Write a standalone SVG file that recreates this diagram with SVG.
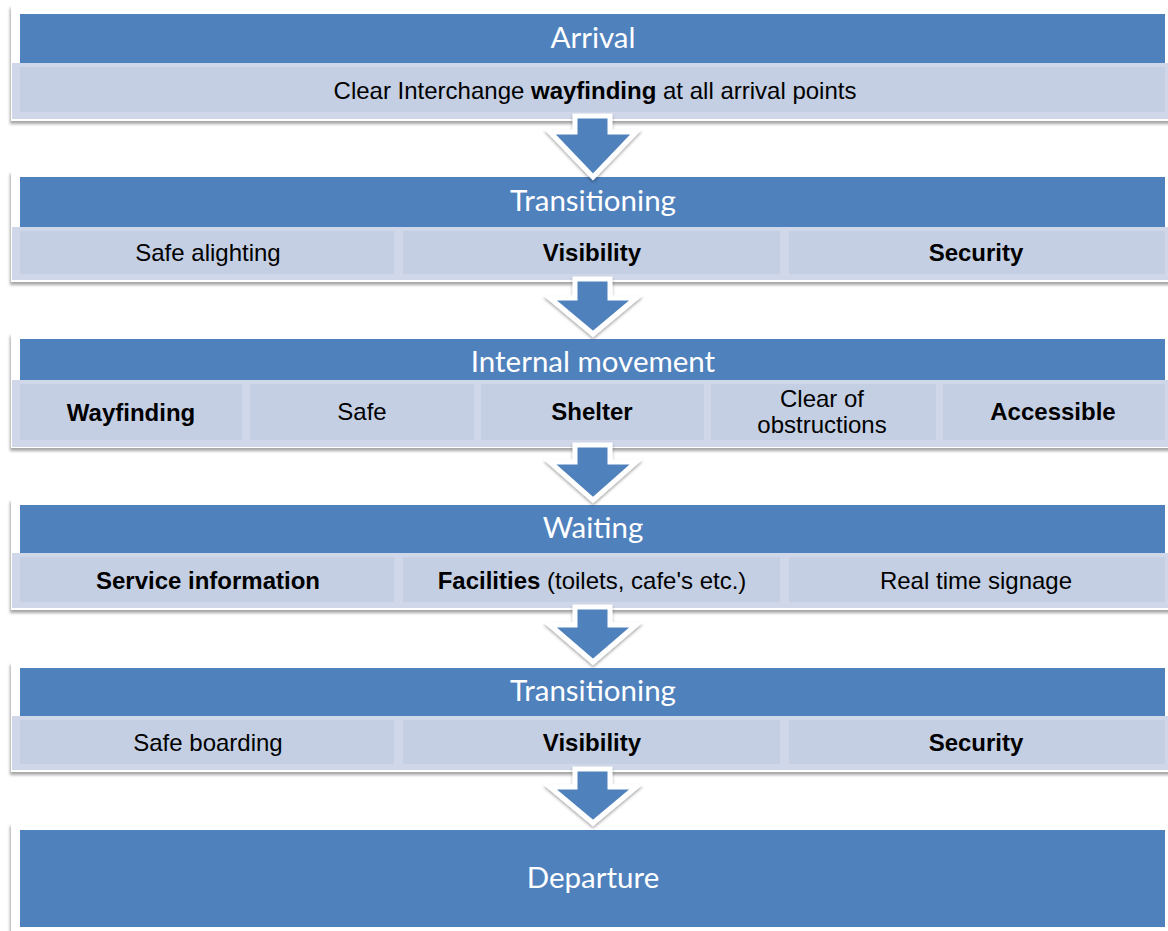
<svg xmlns="http://www.w3.org/2000/svg" width="1168" height="931" viewBox="0 0 1168 931">
<defs>
<filter id="sh" x="-5%" y="-20%" width="110%" height="140%">
<feDropShadow dx="-1" dy="3" stdDeviation="1.5" flood-color="#000" flood-opacity="0.35"/>
</filter>
<filter id="ash" x="-30%" y="-30%" width="160%" height="160%">
<feDropShadow dx="0" dy="2" stdDeviation="1.5" flood-color="#000" flood-opacity="0.35"/>
</filter>
<style>
.card{fill:#ffffff}
.hd{fill:#4f81bd}
.row{fill:#cfd7e8}
.cell{fill:#c4cfe3}
.ht{font-family:Lato,"Open Sans",sans-serif;font-size:29.5px;fill:#ffffff;text-anchor:middle}
.ct{font-family:"Liberation Sans",Arial,sans-serif;font-size:24px;fill:#000000;text-anchor:middle}
.b{font-weight:bold}
.arr{fill:#4f81bd;stroke:#ffffff;stroke-width:5;stroke-linejoin:miter}
</style>
</defs>
<rect width="1168" height="931" fill="#ffffff"/>

<g id="arrival">
<rect class="card" x="11" y="5" width="1165" height="116" filter="url(#sh)"/>
<rect class="hd" x="20" y="14" width="1145" height="49"/>
<rect class="row" x="12" y="63" width="1160" height="56"/>
<rect class="cell" x="20" y="67" width="1145" height="45"/>
<text class="ht" x="593" y="48">Arrival</text>
<text class="ct" x="595" y="99">Clear Interchange <tspan class="b">wayfinding</tspan> at all arrival points</text>
</g>

<g id="transitioning1">
<rect class="card" x="11" y="171" width="1165" height="111" filter="url(#sh)"/>
<rect class="hd" x="20" y="177" width="1145" height="50"/>
<rect class="row" x="12" y="227" width="1160" height="53"/>
<rect class="cell" x="20" y="231" width="374" height="43"/>
<rect class="cell" x="403" y="231" width="377" height="43"/>
<rect class="cell" x="789" y="231" width="376" height="43"/>
<text class="ht" x="593" y="211">Transitioning</text>
<text class="ct" x="208" y="261">Safe alighting</text>
<text class="ct b" x="592" y="261">Visibility</text>
<text class="ct b" x="976" y="261">Security</text>
</g>

<g id="internal">
<rect class="card" x="11" y="333" width="1165" height="115" filter="url(#sh)"/>
<rect class="hd" x="20" y="339" width="1145" height="41"/>
<rect class="row" x="12" y="380" width="1160" height="67"/>
<rect class="cell" x="20" y="384" width="222" height="56"/>
<rect class="cell" x="250" y="384" width="224" height="56"/>
<rect class="cell" x="481" y="384" width="223" height="56"/>
<rect class="cell" x="711" y="384" width="225" height="56"/>
<rect class="cell" x="943" y="384" width="222" height="56"/>
<text class="ht" x="593" y="372">Internal movement</text>
<text class="ct b" x="131" y="421">Wayfinding</text>
<text class="ct" x="362" y="420">Safe</text>
<text class="ct b" x="592" y="420">Shelter</text>
<text class="ct" x="822" y="407">Clear of</text>
<text class="ct" x="822" y="433">obstructions</text>
<text class="ct b" x="1053" y="420">Accessible</text>
</g>

<g id="waiting">
<rect class="card" x="11" y="499" width="1165" height="111" filter="url(#sh)"/>
<rect class="hd" x="20" y="505" width="1145" height="48"/>
<rect class="row" x="12" y="553" width="1160" height="55"/>
<rect class="cell" x="20" y="557" width="374" height="45"/>
<rect class="cell" x="403" y="557" width="377" height="45"/>
<rect class="cell" x="789" y="557" width="376" height="45"/>
<text class="ht" x="593" y="538">Waiting</text>
<text class="ct b" x="208" y="589">Service information</text>
<text class="ct" x="592" y="589"><tspan class="b">Facilities</tspan> (toilets, cafe's etc.)</text>
<text class="ct" x="976" y="589">Real time signage</text>
</g>

<g id="transitioning2">
<rect class="card" x="11" y="662" width="1165" height="110" filter="url(#sh)"/>
<rect class="hd" x="20" y="668" width="1145" height="48"/>
<rect class="row" x="12" y="716" width="1160" height="54"/>
<rect class="cell" x="20" y="720" width="374" height="44"/>
<rect class="cell" x="403" y="720" width="377" height="44"/>
<rect class="cell" x="789" y="720" width="376" height="44"/>
<text class="ht" x="593" y="701">Transitioning</text>
<text class="ct" x="208" y="751">Safe boarding</text>
<text class="ct b" x="592" y="751">Visibility</text>
<text class="ct b" x="976" y="751">Security</text>
</g>

<g id="departure">
<rect class="card" x="11" y="823" width="1165" height="112" filter="url(#sh)"/>
<rect class="hd" x="20" y="830" width="1145" height="97"/>
<text class="ht" x="593" y="888">Departure</text>
</g>

<g id="connectors">
<path class="arr" filter="url(#ash)" d="M575,116 L610,116 L610,132 L636,132 L593,177 L550,132 L575,132 Z"/>
<path class="arr" filter="url(#ash)" d="M575,279 L610,279 L610,298 L636,298 L593,334 L550,298 L575,298 Z"/>
<path class="arr" filter="url(#ash)" d="M575,445 L610,445 L610,462 L636,462 L593,500 L550,462 L575,462 Z"/>
<path class="arr" filter="url(#ash)" d="M575,607 L610,607 L610,625 L636,625 L593,662 L550,625 L575,625 Z"/>
<path class="arr" filter="url(#ash)" d="M575,769 L610,769 L610,787 L636,787 L593,823 L550,787 L575,787 Z"/>
</g>
</svg>
